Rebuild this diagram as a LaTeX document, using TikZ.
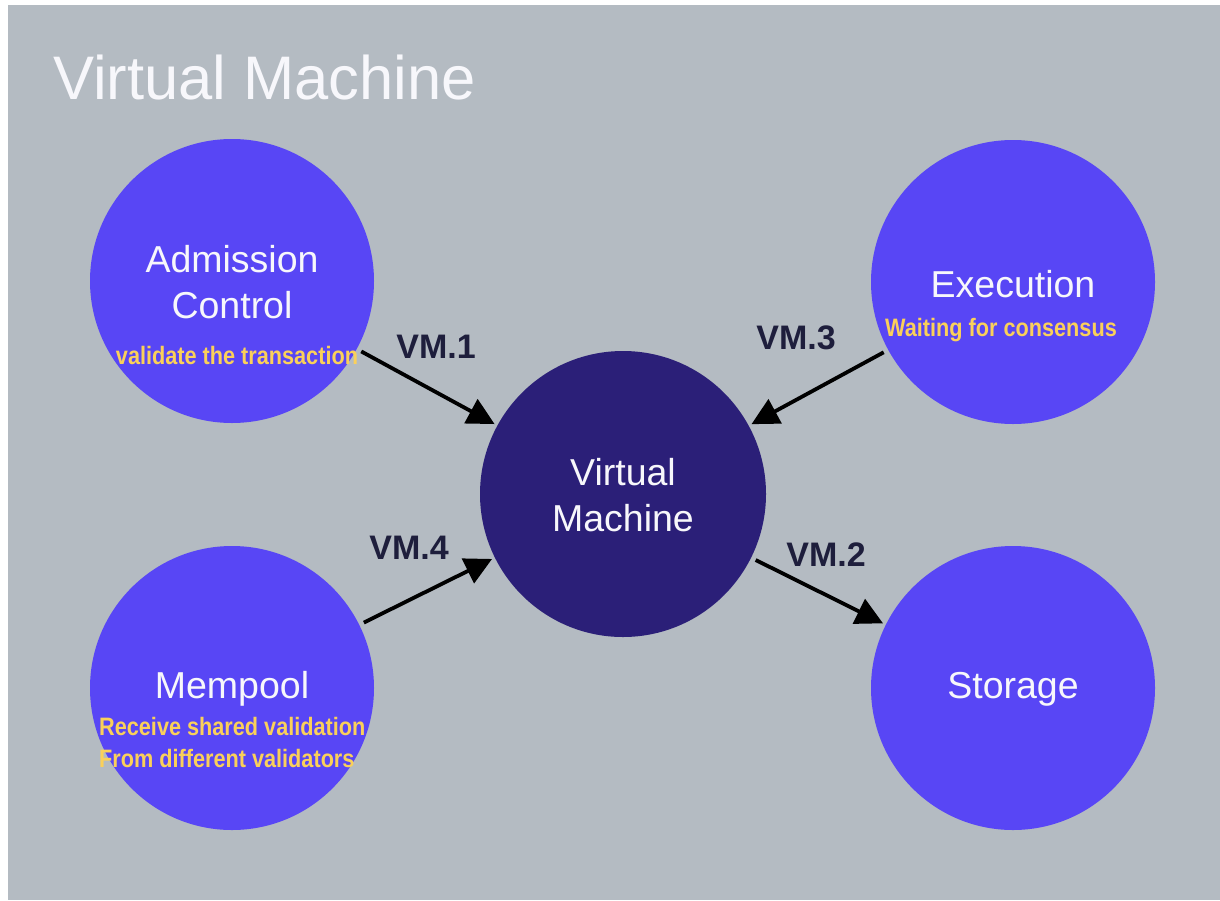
\documentclass[tikz,border=0pt]{standalone}
\usepackage{fontspec}
\setmainfont{Liberation Sans}
\newfontfamily\notefont[FakeStretch=0.86]{Liberation Sans}
\usetikzlibrary{arrows.meta}
\definecolor{bgc}{HTML}{B4BBC2}
\definecolor{blu}{HTML}{5846F5}
\definecolor{dvm}{HTML}{2B1F78}
\definecolor{ylw}{HTML}{FAD05A}
\definecolor{navy}{HTML}{1E1E3C}
\definecolor{wht}{HTML}{F7F7FB}
\tikzset{
  circ/.style={circle, fill=blu, minimum size=284pt, inner sep=0pt},
  circd/.style={circle, fill=dvm, minimum size=286pt, inner sep=0pt},
  big/.style={text=wht, align=center, font=\fontsize{37.5}{46}\selectfont, inner sep=0pt},
  note/.style={text=ylw, align=left, font=\notefont\bfseries\fontsize{25.2}{32}\selectfont, inner sep=0pt},
  vml/.style={text=navy, font=\bfseries\fontsize{34}{36}\selectfont, inner sep=0pt},
  conn/.style={line width=3.8pt, -{Triangle[length=27pt,width=27pt]}, shorten <=5pt, shorten >=3pt}
}
\begin{document}
\begin{tikzpicture}[x=1pt,y=-1pt]
\useasboundingbox (0,0) rectangle (1220,900);
\fill[white] (0,0) rectangle (1220,900);
\fill[bgc] (8,5) rectangle (1220,900);
\node[text=wht, anchor=west, font=\fontsize{61.5}{66}\selectfont, inner sep=0pt] (title) at (53,78) {Virtual Machine};

\node[circ] (ac) at (232,281) {};
\node[circ] (ex) at (1013,282) {};
\node[circ] (mp) at (232,688) {};
\node[circ] (st) at (1013,688) {};
\node[circd] (vm) at (623,494) {};

\node[big] (act) at (232,282) {Admission\\Control};
\node[note] (acn) at (237,355) {validate the transaction};
\node[big] (ext) at (1013,284) {Execution};
\node[note] (exn) at (1001,330) {Waiting for consensus};
\node[big] (mpt) at (232,689) {Mempool};
\node[note, anchor=west] (mpn) at (99,742) {Receive shared validation\\From different validators};
\node[big] (stt) at (1013,689) {Storage};
\node[big] (vmt) at (623,495) {Virtual\\Machine};

\draw[conn] (ac) -- (vm);
\draw[conn] (ex) -- (vm);
\draw[conn] (mp) -- (vm);
\draw[conn] (vm) -- (st);

\node[vml] (l1) at (436,347) {VM.1};
\node[vml] (l3) at (796,338) {VM.3};
\node[vml] (l4) at (409,548) {VM.4};
\node[vml] (l2) at (826,555) {VM.2};
\end{tikzpicture}
\end{document}
